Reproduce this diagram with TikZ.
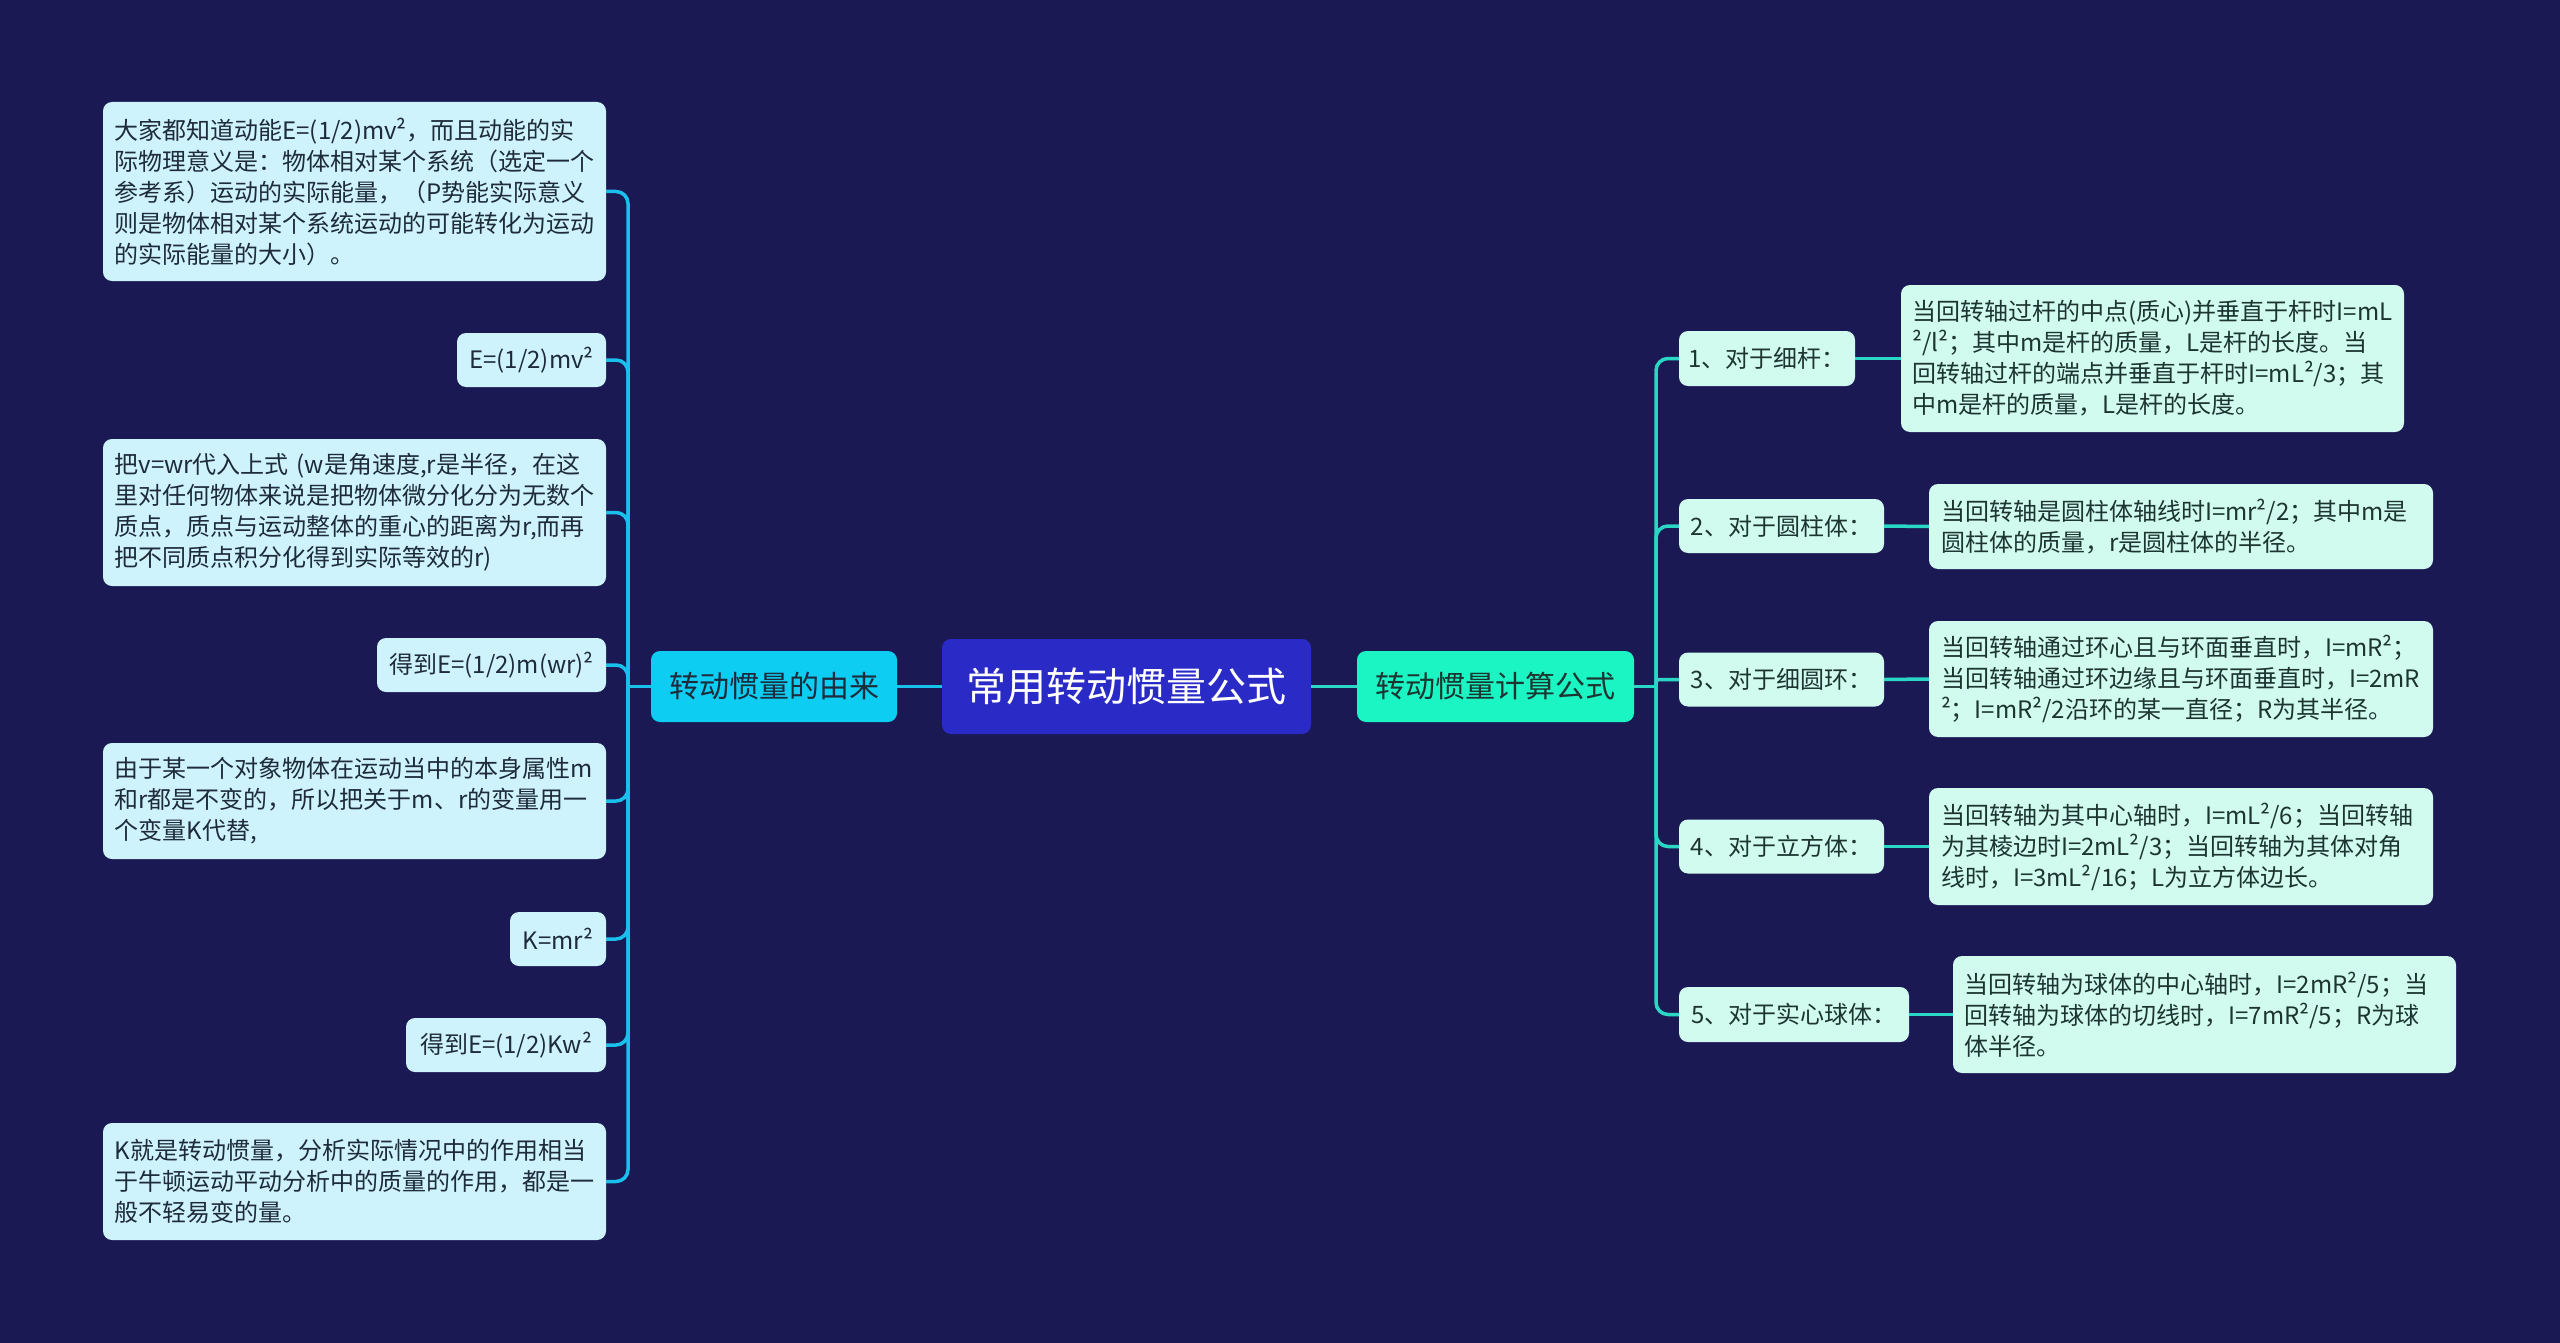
\documentclass[tikz,border=0pt]{standalone}
\usepackage{fontspec}
\setmainfont{Noto Sans CJK SC}
\definecolor{bg}{HTML}{1B1954}
\definecolor{rootfill}{HTML}{2A2BC6}
\definecolor{lheadfill}{HTML}{0DCDF2}
\definecolor{rheadfill}{HTML}{1BF5C4}
\definecolor{lleaffill}{HTML}{CFF3FC}
\definecolor{rleaffill}{HTML}{D2FBF0}
\definecolor{lline}{HTML}{1AC0EC}
\definecolor{rline}{HTML}{2AD6C4}
\definecolor{ltxt}{HTML}{1E2B3A}
\definecolor{rtxt}{HTML}{1C3530}
\tikzset{
  boxbase/.style={rounded corners=9pt, inner sep=0pt, align=center},
  rootbox/.style={boxbase, fill=rootfill, text=white, font=\fontsize{40}{48}\selectfont},
  lheadbox/.style={boxbase, fill=lheadfill, text=ltxt, font=\fontsize{30}{36}\selectfont},
  rheadbox/.style={boxbase, fill=rheadfill, text=rtxt, font=\fontsize{30}{36}\selectfont},
  lleafbox/.style={boxbase, fill=lleaffill, text=ltxt, font=\fontsize{24}{31}\selectfont},
  rleafbox/.style={boxbase, fill=rleaffill, text=rtxt, font=\fontsize{24}{31}\selectfont},
  multibox/.style={text width=480pt, align=left},
  lconn/.style={draw=lline, line width=3.5pt},
  rconn/.style={draw=rline, line width=3.5pt},
}
\begin{document}
\begin{tikzpicture}[x=1pt, y=-1pt]
\useasboundingbox (0,0) rectangle (2560,1343);
\fill[bg] (0,0) rectangle (2560,1343);

% root and heads
\node[rootbox, minimum width=369pt, minimum height=95pt] (root) at (1126.5,686.5) {常用转动惯量公式};
\node[lheadbox, minimum width=246pt, minimum height=71pt] (lhead) at (774,686.5) {转动惯量的由来};
\node[rheadbox, minimum width=277pt, minimum height=71pt] (rhead) at (1495.5,686.5) {转动惯量计算公式};

% left leaves
\node[lleafbox, multibox, minimum width=503pt, minimum height=179pt] (l1) at (354.5,191.5)
  {大家都知道动能E=(1/2)mv²，而且动能的实\\际物理意义是：物体相对某个系统（选定一个\\参考系）运动的实际能量，（P势能实际意义\\则是物体相对某个系统运动的可能转化为运动\\的实际能量的大小）。};
\node[lleafbox, minimum width=149pt, minimum height=54pt] (l2) at (531.5,360) {E=(1/2)mv²};
\node[lleafbox, multibox, minimum width=503pt, minimum height=147pt] (l3) at (354.5,512.5)
  {把v=wr代入上式 (w是角速度,r是半径，在这\\里对任何物体来说是把物体微分化分为无数个\\质点，质点与运动整体的重心的距离为r,而再\\把不同质点积分化得到实际等效的r)};
\node[lleafbox, minimum width=229pt, minimum height=54pt] (l4) at (491.5,665) {得到E=(1/2)m(wr)²};
\node[lleafbox, multibox, minimum width=503pt, minimum height=116pt] (l5) at (354.5,801)
  {由于某一个对象物体在运动当中的本身属性m\\和r都是不变的，所以把关于m、r的变量用一\\个变量K代替,};
\node[lleafbox, minimum width=96pt, minimum height=54pt] (l6) at (558,939) {K=mr²};
\node[lleafbox, minimum width=200pt, minimum height=54pt] (l7) at (506,1045) {得到E=(1/2)Kw²};
\node[lleafbox, multibox, minimum width=503pt, minimum height=117pt] (l8) at (354.5,1181.5)
  {K就是转动惯量，分析实际情况中的作用相当\\于牛顿运动平动分析中的质量的作用，都是一\\般不轻易变的量。};

% right second level
\node[rleafbox, minimum width=176pt, minimum height=55pt] (r1) at (1767,358.5) {1、对于细杆：};
\node[rleafbox, minimum width=205pt, minimum height=54pt] (r2) at (1781.5,526) {2、对于圆柱体：};
\node[rleafbox, minimum width=205pt, minimum height=54pt] (r3) at (1781.5,679.5) {3、对于细圆环：};
\node[rleafbox, minimum width=205pt, minimum height=54pt] (r4) at (1781.5,846.5) {4、对于立方体：};
\node[rleafbox, minimum width=230pt, minimum height=55pt] (r5) at (1794,1014.5) {5、对于实心球体：};

% right leaves
\node[rleafbox, multibox, minimum width=503pt, minimum height=147pt] (s1) at (2152.5,358.5)
  {当回转轴过杆的中点(质心)并垂直于杆时I=mL\\²/l²；其中m是杆的质量，L是杆的长度。当\\回转轴过杆的端点并垂直于杆时I=mL²/3；其\\中m是杆的质量，L是杆的长度。};
\node[rleafbox, multibox, minimum width=504pt, minimum height=85pt] (s2) at (2181,526.5)
  {当回转轴是圆柱体轴线时I=mr²/2；其中m是\\圆柱体的质量，r是圆柱体的半径。};
\node[rleafbox, multibox, minimum width=504pt, minimum height=116pt] (s3) at (2181,679)
  {当回转轴通过环心且与环面垂直时，I=mR²；\\当回转轴通过环边缘且与环面垂直时，I=2mR\\²；I=mR²/2沿环的某一直径；R为其半径。};
\node[rleafbox, multibox, minimum width=504pt, minimum height=117pt] (s4) at (2181,846.5)
  {当回转轴为其中心轴时，I=mL²/6；当回转轴\\为其棱边时I=2mL²/3；当回转轴为其体对角\\线时，I=3mL²/16；L为立方体边长。};
\node[rleafbox, multibox, minimum width=503pt, minimum height=117pt] (s5) at (2204.5,1014.5)
  {当回转轴为球体的中心轴时，I=2mR²/5；当\\回转轴为球体的切线时，I=7mR²/5；R为球\\体半径。};

% connectors
\coordinate (ls) at (628,686.5);
\coordinate (rs) at (1656,686.5);
\begin{scope}[on background layer/.style={}]
\draw[lconn] (root.west) -- (lhead.east);
\draw[rconn] (root.east) -- (rhead.west);
\draw[lconn] (lhead.west) -- (ls);
\foreach \k in {l1,l2,l3,l4,l5,l6,l7,l8}
  \draw[lconn, rounded corners=12pt] (ls) |- (\k.east);
\draw[rconn] (rhead.east) -- (rs);
\foreach \k in {r1,r2,r4,r5}
  \draw[rconn, rounded corners=12pt] (rs) |- (\k.west);
\draw[rconn, rounded corners=3pt] (rs) |- (r3.west);
\draw[rconn] (r1.east) -- (s1.west);
\draw[rconn] (r2.east) -- (s2.west);
\draw[rconn] (r3.east) -- (s3.west);
\draw[rconn] (r4.east) -- (s4.west);
\draw[rconn] (r5.east) -- (s5.west);
\end{scope}
\end{tikzpicture}
\end{document}
